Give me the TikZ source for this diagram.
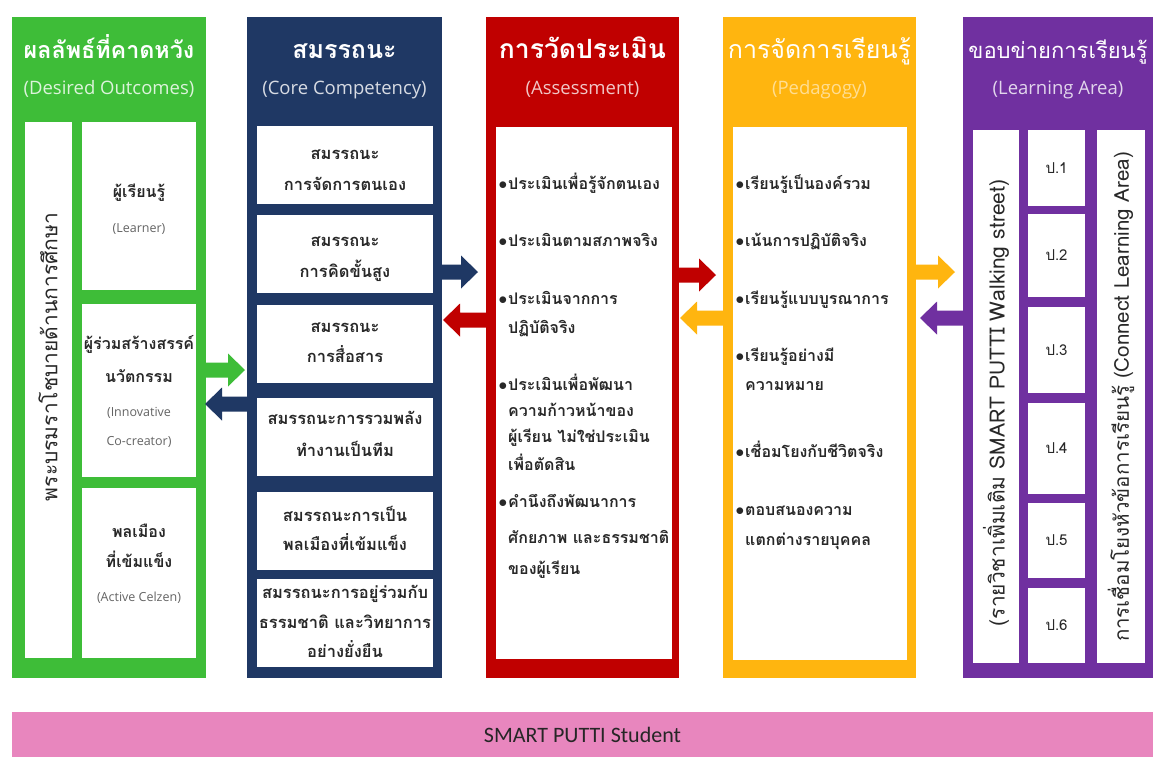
\documentclass[tikz,border=0pt]{standalone}
\usepackage{fontspec}
\setmainfont{Open Sans}
\newfontfamily\thaifont[Script=Thai]{Loma}
\newfontfamily\calfont{Carlito}
\usetikzlibrary{fit}
\definecolor{cG}{RGB}{62,189,56}
\definecolor{cB}{RGB}{31,56,100}
\definecolor{cR}{RGB}{192,0,0}
\definecolor{cY}{RGB}{255,181,15}
\definecolor{cP}{RGB}{112,48,160}
\definecolor{cK}{RGB}{232,134,190}
\definecolor{txt}{RGB}{40,40,40}
\definecolor{gtx}{RGB}{100,100,100}
\newcommand\bul{\llap{$\bullet$\hspace{1pt}}}
% block arrows: colour, start point (shaft centre), length
\newcommand\rarr[3]{\fill[#1] (#2) ++(0,-7.5) -- ++({#3-17},0) -- ++(0,-9) -- ++(17,16.5) -- ++(-17,16.5) -- ++(0,-9) -- ++({-(#3-17)},0) -- cycle;}
\newcommand\larr[3]{\fill[#1] (#2) ++(0,-7.5) -- ++({-(#3-17)},0) -- ++(0,-9) -- ++(-17,16.5) -- ++(17,16.5) -- ++(0,-9) -- ++({#3-17},0) -- cycle;}
\tikzset{
  colbox/.style={inner sep=0pt, outer sep=0pt},
  wbox/.style={fill=white, inner sep=0pt, outer sep=0pt},
  hdr/.style={anchor=base, text=white, inner sep=0pt, font=\thaifont\bfseries},
  hdrl/.style={anchor=base, text=white, inner sep=0pt, font=\thaifont},
  sub/.style={anchor=base, inner sep=0pt, font=\fontsize{18.5}{22}\selectfont},
  tx/.style={anchor=base, text=txt, inner sep=0pt, font=\thaifont\bfseries\fontsize{16.5}{19}\selectfont},
  gtxs/.style={anchor=base, text=txt, inner sep=0pt, font=\thaifont\bfseries\fontsize{16}{19}\selectfont},
  itm/.style={anchor=base west, text=txt, inner sep=0pt, font=\thaifont\bfseries\fontsize{16}{19}\selectfont},
  sm/.style={anchor=base, text=gtx, inner sep=0pt, font=\fontsize{12.5}{15}\selectfont},
  vert/.style={rotate=90, text=txt, inner sep=0pt},
  plab/.style={text=txt, inner sep=0pt, font=\thaifont\fontsize{15}{18}\selectfont},
}
\begin{document}
\begin{tikzpicture}[x=1pt,y=-1pt]
\useasboundingbox (0,0) rectangle (1153,764);
\fill[white] (0,0) rectangle (1153,764);

% ---------- Green column ----------
\node[colbox, fill=cG, fit={(12,17) (206,678)}] (G) {};
\node[hdr, font=\thaifont\bfseries\fontsize{23.3}{26}\selectfont] (Gh) at (109,58) {ผลลัพธ์ที่คาดหวัง};
\node[sub, text=white!82!cG] (Gs) at (109,94) {(Desired Outcomes)};
\node[wbox, fit={(25,122) (72,658)}] (G0) {};
\node[wbox, fit={(82,122) (196,290)}] (G1) {};
\node[wbox, fit={(82,304) (196,477)}] (G2) {};
\node[wbox, fit={(82,488) (196,658)}] (G3) {};
\node[vert, font=\thaifont\fontsize{21}{24}\selectfont] (G0t) at (48,357) {พระบรมราโชบายด้านการศึกษา};
\node[gtxs] (G1a) at (139,197) {ผู้เรียนรู้};
\node[sm] (G1b) at (139,232) {(Learner)};
\node[gtxs] (G2a) at (139,349) {ผู้ร่วมสร้างสรรค์};
\node[gtxs] (G2b) at (139,382) {นวัตกรรม};
\node[sm] (G2c) at (139,416) {(Innovative};
\node[sm] (G2d) at (139,445) {Co-creator)};
\node[gtxs] (G3a) at (139,537) {พลเมือง};
\node[gtxs] (G3b) at (139,567) {ที่เข้มแข็ง};
\node[sm] (G3c) at (139,601) {(Active Celzen)};

% ---------- Blue column ----------
\node[colbox, fill=cB, fit={(247,17) (442,678)}] (B) {};
\node[hdr, font=\thaifont\bfseries\fontsize{25}{28}\selectfont] (Bh) at (344.5,58) {สมรรถนะ};
\node[sub, text=white!82!cB] (Bs) at (344.5,94) {(Core Competency)};
\node[wbox, fit={(257,126) (433,204)}] (B1) {};
\node[wbox, fit={(257,215) (433,293)}] (B2) {};
\node[wbox, fit={(257,305) (433,383)}] (B3) {};
\node[wbox, fit={(257,398) (433,476)}] (B4) {};
\node[wbox, fit={(257,492) (433,570)}] (B5) {};
\node[wbox, fit={(257,579) (433,667)}] (B6) {};
\node[tx] (B1a) at (345,159) {สมรรถนะ};
\node[tx] (B1b) at (345,190) {การจัดการตนเอง};
\node[tx] (B2a) at (345,246) {สมรรถนะ};
\node[tx] (B2b) at (345,277) {การคิดขั้นสูง};
\node[tx] (B3a) at (345,332) {สมรรถนะ};
\node[tx] (B3b) at (345,362) {การสื่อสาร};
\node[tx] (B4a) at (345,424) {สมรรถนะการรวมพลัง};
\node[tx] (B4b) at (345,456) {ทำงานเป็นทีม};
\node[tx] (B5a) at (345,521) {สมรรถนะการเป็น};
\node[tx] (B5b) at (345,550) {พลเมืองที่เข้มแข็ง};
\node[tx] (B6a) at (345,598) {สมรรถนะการอยู่ร่วมกับ};
\node[tx] (B6b) at (345,628) {ธรรมชาติ และวิทยาการ};
\node[tx] (B6c) at (345,657) {อย่างยั่งยืน};

% ---------- Red column ----------
\node[colbox, fill=cR, fit={(486,17) (679,678)}] (R) {};
\node[hdr, font=\thaifont\bfseries\fontsize{26.5}{29}\selectfont] (Rh) at (582.5,58) {การวัดประเมิน};
\node[sub, text=white!78!cR] (Rs) at (582.5,94) {(Assessment)};
\node[wbox, fit={(496,127) (672,659)}] (R0) {};
\node[itm] (R1) at (508,189) {\bul ประเมินเพื่อรู้จักตนเอง};
\node[itm] (R2) at (508,246) {\bul ประเมินตามสภาพจริง};
\node[itm] (R3a) at (508,304) {\bul ประเมินจากการ};
\node[itm] (R3b) at (508,333) {ปฏิบัติจริง};
\node[itm] (R4a) at (508,390) {\bul ประเมินเพื่อพัฒนา};
\node[itm] (R4b) at (508,416) {ความก้าวหน้าของ};
\node[itm] (R4c) at (508,442) {ผู้เรียน ไม่ใช่ประเมิน};
\node[itm] (R4d) at (508,470) {เพื่อตัดสิน};
\node[itm] (R5a) at (508,507) {\bul คำนึงถึงพัฒนาการ};
\node[itm] (R5b) at (508,543) {ศักยภาพ และธรรมชาติ};
\node[itm] (R5c) at (508,574) {ของผู้เรียน};

% ---------- Yellow column ----------
\node[colbox, fill=cY, fit={(723,17) (916,678)}] (Y) {};
\node[hdrl, font=\thaifont\fontsize{25}{28}\selectfont] (Yh) at (819.5,58) {การจัดการเรียนรู้};
\node[sub, text=white!55!cY] (Ys) at (819.5,94) {(Pedagogy)};
\node[wbox, fit={(733,127) (907,660)}] (Y0) {};
\node[itm] (Y1) at (745,189) {\bul เรียนรู้เป็นองค์รวม};
\node[itm] (Y2) at (745,246) {\bul เน้นการปฏิบัติจริง};
\node[itm] (Y3) at (745,304) {\bul เรียนรู้แบบบูรณาการ};
\node[itm] (Y4a) at (745,361) {\bul เรียนรู้อย่างมี};
\node[itm] (Y4b) at (745,390) {ความหมาย};
\node[itm] (Y5) at (745,457) {\bul เชื่อมโยงกับชีวิตจริง};
\node[itm] (Y6a) at (745,515) {\bul ตอบสนองความ};
\node[itm] (Y6b) at (745,545) {แตกต่างรายบุคคล};

% ---------- Purple column ----------
\node[colbox, fill=cP, fit={(963,17) (1153,678)}] (P) {};
\node[hdrl, font=\thaifont\fontsize{22}{25}\selectfont] (Ph) at (1058,58) {ขอบข่ายการเรียนรู้};
\node[sub, text=white!80!cP] (Ps) at (1058,94) {(Learning Area)};
\node[wbox, fit={(973,130) (1019,663)}] (PA) {};
\node[wbox, fit={(1097,130) (1145,663)}] (PC) {};
\node[wbox, fit={(1028,130) (1085,206)}] (P1) {};
\node[wbox, fit={(1028,214) (1085,297)}] (P2) {};
\node[wbox, fit={(1028,307) (1085,393)}] (P3) {};
\node[wbox, fit={(1028,403) (1085,494)}] (P4) {};
\node[wbox, fit={(1028,503) (1085,578)}] (P5) {};
\node[wbox, fit={(1028,588) (1085,663)}] (P6) {};
\node[plab] at (P1.center) (P1t) {ป.1};
\node[plab] at (P2.center) (P2t) {ป.2};
\node[plab] at (P3.center) (P3t) {ป.3};
\node[plab] at (P4.center) (P4t) {ป.4};
\node[plab] at (P5.center) (P5t) {ป.5};
\node[plab] at (P6.center) (P6t) {ป.6};
\node[vert, font=\thaifont\fontsize{21}{24}\selectfont] (PAt) at (996,403) {(รายวิชาเพิ่มเติม SMART PUTTI Walking street)};
\node[vert, font=\thaifont\fontsize{20.5}{24}\selectfont] (PCt) at (1121,397) {การเชื่อมโยงหัวข้อการเรียนรู้ (Connect Learning Area)};

% ---------- Bottom bar ----------
\node[colbox, fill=cK, fit={(12,712) (1153,757)}] (K) {};
\node[text=black!85, inner sep=0pt, font=\calfont\fontsize{22}{26}\selectfont] (Kt) at (K.center) {SMART PUTTI Student};

% ---------- Arrows ----------
\rarr{cG}{[xshift=-1pt]G.east |- 0,370}{40}
\larr{cB}{[xshift=1pt]B.west |- 0,404}{43}
\rarr{cB}{[xshift=-1pt]B.east |- 0,272}{37}
\larr{cR}{[xshift=1pt]R.west |- 0,320}{44}
\rarr{cR}{[xshift=-1pt]R.east |- 0,275}{38}
\larr{cY}{[xshift=1pt]Y.west |- 0,318}{44}
\rarr{cY}{[xshift=-1pt]Y.east |- 0,272}{40}
\larr{cP}{[xshift=1pt]P.west |- 0,318}{44}
\end{tikzpicture}
\end{document}
